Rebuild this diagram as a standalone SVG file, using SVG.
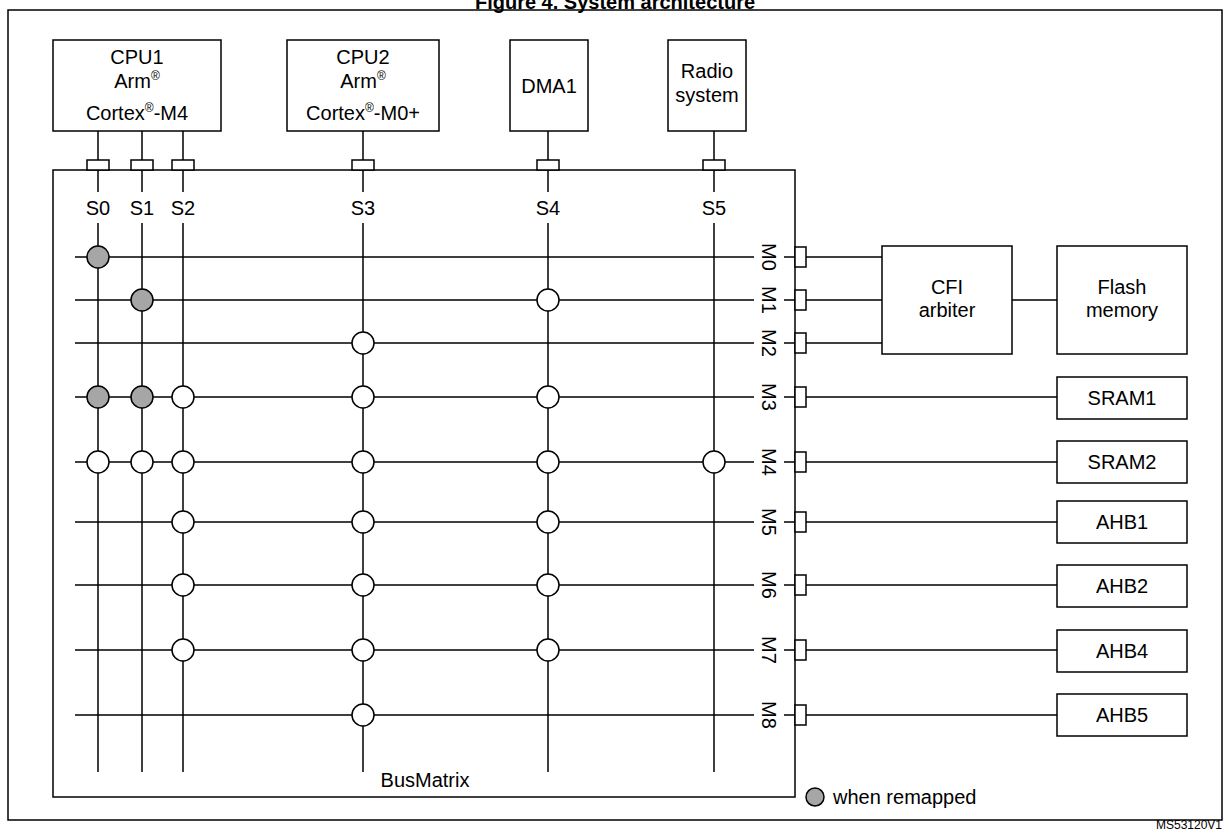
<svg xmlns="http://www.w3.org/2000/svg" width="1230" height="831" viewBox="0 0 1230 831">
<style>
text{font-family:"Liberation Sans",Arial,sans-serif;font-size:20px;fill:#000}
.b{fill:#fff;stroke:#000;stroke-width:1.5}
.l{stroke:#000;stroke-width:1.5;fill:none}
.w{fill:#fff;stroke:#000;stroke-width:1.5}
.g{fill:#a6a6a6;stroke:#000;stroke-width:1.5}
.m{text-anchor:middle}
.sup{font-size:12px}
</style>
<rect width="1230" height="831" fill="#fff"/>
<text x="615" y="9" class="m" style="font-weight:bold">Figure 4. System architecture</text>
<rect x="8" y="10" width="1214" height="810" class="l"/>
<g id="cpu1"><rect x="53" y="40" width="168" height="91" class="b"/>
<text x="137" y="64" class="m">CPU1</text><text x="137" y="88" class="m">Arm<tspan class="sup" dy="-8">®</tspan></text><text x="137" y="120" class="m">Cortex<tspan class="sup" dy="-8">®</tspan><tspan dy="8">-M4</tspan></text></g>
<g id="cpu2"><rect x="287" y="40" width="152" height="91" class="b"/>
<text x="363" y="64" class="m">CPU2</text><text x="363" y="88" class="m">Arm<tspan class="sup" dy="-8">®</tspan></text><text x="363" y="120" class="m">Cortex<tspan class="sup" dy="-8">®</tspan><tspan dy="8">-M0+</tspan></text></g>
<g id="dma1"><rect x="510" y="40" width="78" height="91" class="b"/><text x="549" y="93" class="m">DMA1</text></g>
<g id="radio"><rect x="668" y="40" width="78" height="91" class="b"/><text x="707" y="78" class="m">Radio</text><text x="707" y="102" class="m">system</text></g>
<g id="busmatrix"><rect x="53" y="170" width="742" height="627" class="b"/><text x="425" y="787" class="m">BusMatrix</text></g>
<g id="cfi"><rect x="882" y="246" width="130" height="108" class="b"/><text x="947" y="294" class="m">CFI</text><text x="947" y="317" class="m">arbiter</text></g>
<g id="flash"><rect x="1057" y="246" width="130" height="108" class="b"/><text x="1122" y="294" class="m">Flash</text><text x="1122" y="317" class="m">memory</text></g>
<g id="sram1"><rect x="1057" y="377" width="130" height="42" class="b"/><text x="1122" y="405" class="m">SRAM1</text></g>
<g id="sram2"><rect x="1057" y="441" width="130" height="42" class="b"/><text x="1122" y="469" class="m">SRAM2</text></g>
<g id="ahb1"><rect x="1057" y="501" width="130" height="42" class="b"/><text x="1122" y="529" class="m">AHB1</text></g>
<g id="ahb2"><rect x="1057" y="565" width="130" height="42" class="b"/><text x="1122" y="593" class="m">AHB2</text></g>
<g id="ahb4"><rect x="1057" y="630" width="130" height="42" class="b"/><text x="1122" y="658" class="m">AHB4</text></g>
<g id="ahb5"><rect x="1057" y="694" width="130" height="42" class="b"/><text x="1122" y="722" class="m">AHB5</text></g>
<g id="connectors">
<path class="l" d="M98 131V160M142 131V160M183 131V160M363 131V160M548 131V160M714 131V160
M98 170V192M142 170V192M183 170V192M363 170V192M548 170V192M714 170V192
M98 223V772M142 223V772M183 223V772M363 223V772M548 223V772M714 223V772
M75 257H754M75 300H754M75 343H754M75 397H754M75 462H754M75 522H754M75 585H754M75 650H754M75 715H754
M784 257H795M784 300H795M784 343H795M784 397H795M784 462H795M784 522H795M784 585H795M784 650H795M784 715H795
M806 257H882M806 300H882M806 343H882M1012 300H1057
M806 397H1057M806 462H1057M806 522H1057M806 585H1057M806 650H1057M806 715H1057"/>
<g class="b">
<rect x="87" y="160" width="22" height="10"/><rect x="131" y="160" width="22" height="10"/><rect x="172" y="160" width="22" height="10"/><rect x="352" y="160" width="22" height="10"/><rect x="537" y="160" width="22" height="10"/><rect x="703" y="160" width="22" height="10"/>
<rect x="795" y="247" width="11" height="20"/><rect x="795" y="290" width="11" height="20"/><rect x="795" y="333" width="11" height="20"/><rect x="795" y="387" width="11" height="20"/><rect x="795" y="452" width="11" height="20"/><rect x="795" y="512" width="11" height="20"/><rect x="795" y="575" width="11" height="20"/><rect x="795" y="640" width="11" height="20"/><rect x="795" y="705" width="11" height="20"/>
</g>
<circle class="g" cx="98" cy="257" r="11"/>
<circle class="g" cx="142" cy="300" r="11"/><circle class="w" cx="548" cy="300" r="11"/>
<circle class="w" cx="363" cy="343" r="11"/>
<circle class="g" cx="98" cy="397" r="11"/><circle class="g" cx="142" cy="397" r="11"/><circle class="w" cx="183" cy="397" r="11"/><circle class="w" cx="363" cy="397" r="11"/><circle class="w" cx="548" cy="397" r="11"/>
<circle class="w" cx="98" cy="462" r="11"/><circle class="w" cx="142" cy="462" r="11"/><circle class="w" cx="183" cy="462" r="11"/><circle class="w" cx="363" cy="462" r="11"/><circle class="w" cx="548" cy="462" r="11"/><circle class="w" cx="714" cy="462" r="11"/>
<circle class="w" cx="183" cy="522" r="11"/><circle class="w" cx="363" cy="522" r="11"/><circle class="w" cx="548" cy="522" r="11"/>
<circle class="w" cx="183" cy="585" r="11"/><circle class="w" cx="363" cy="585" r="11"/><circle class="w" cx="548" cy="585" r="11"/>
<circle class="w" cx="183" cy="650" r="11"/><circle class="w" cx="363" cy="650" r="11"/><circle class="w" cx="548" cy="650" r="11"/>
<circle class="w" cx="363" cy="715" r="11"/>
</g>
<g id="labels">
<text x="98" y="215" class="m">S0</text><text x="142" y="215" class="m">S1</text><text x="183" y="215" class="m">S2</text><text x="363" y="215" class="m">S3</text><text x="548" y="215" class="m">S4</text><text x="714" y="215" class="m">S5</text>
<text class="m" transform="translate(762 257) rotate(90)">M0</text>
<text class="m" transform="translate(762 300) rotate(90)">M1</text>
<text class="m" transform="translate(762 343) rotate(90)">M2</text>
<text class="m" transform="translate(762 397) rotate(90)">M3</text>
<text class="m" transform="translate(762 462) rotate(90)">M4</text>
<text class="m" transform="translate(762 522) rotate(90)">M5</text>
<text class="m" transform="translate(762 585) rotate(90)">M6</text>
<text class="m" transform="translate(762 650) rotate(90)">M7</text>
<text class="m" transform="translate(762 715) rotate(90)">M8</text>
</g>
<g id="legend"><circle class="g" cx="815" cy="797" r="9"/><text x="833" y="804">when remapped</text></g>
<text x="1222" y="829" style="font-size:12px;text-anchor:end">MS53120V1</text>
</svg>
